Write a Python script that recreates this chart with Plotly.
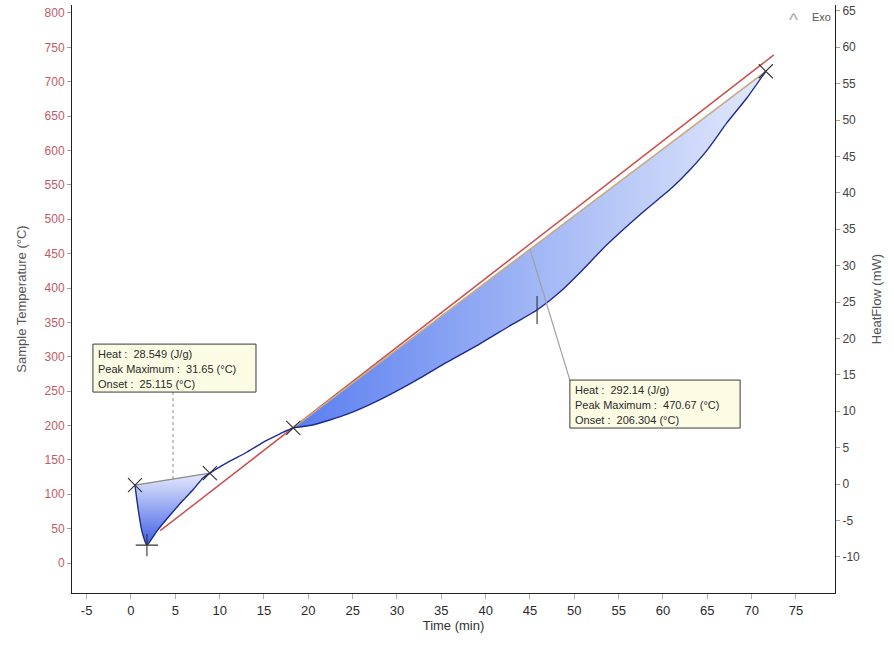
import plotly.graph_objects as go

# ---------------- data ----------------
# DSC heat-flow curve (right axis, mW) vs time (min)
time_min = [0.45, 0.83, 1.20, 1.50, 1.80, 2.9, 4.4, 5.9, 7.0, 8.1, 8.9, 10.8, 13.1, 15.3, 16.8,
            18.3, 20.5, 24.4, 28.1, 31.8, 35.6, 39.4, 43.1, 45.8, 48.4, 50.6, 53.7, 57.4, 61.1,
            63.0, 65.0, 67.2, 69.5, 71.6]
heatflow = [-0.14, -3.6, -6.3, -7.6, -8.4, -6.5, -4.3, -2.2, -0.8, 0.8, 1.5, 2.9, 4.4, 6.0, 6.9,
            7.7, 8.1, 9.6, 11.6, 14.0, 16.7, 19.3, 22.0, 23.9, 26.4, 29.0, 32.9, 37.0, 40.8,
            43.1, 45.9, 49.6, 53.1, 56.7]

# Sample temperature (left axis, °C) vs time (min)
temp_time = [3.3, 18.3, 45.7, 72.5]
sample_temp = [47, 197, 471, 739]

# integration limits (start, end time) of the two peaks and peak-maximum times
peak1_limits = [0.45, 8.9]
peak2_limits = [18.3, 71.6]
peak1_max_time = 1.80
peak2_max_time = 45.8

peak1_text = ["Heat :  28.549 (J/g)", "Peak Maximum :  31.65 (\u00b0C)", "Onset :  25.115 (\u00b0C)"]
peak2_text = ["Heat :  292.14 (J/g)", "Peak Maximum :  470.67 (\u00b0C)", "Onset :  206.304 (\u00b0C)"]

x_ticks = list(range(-5, 80, 5))
x_labels = [str(v).replace("-", "-") for v in x_ticks]
y_ticks = list(range(0, 801, 50))
y2_ticks = list(range(-10, 66, 5))
y2_labels = [str(v) for v in y2_ticks]

# ---------------- helpers ----------------
def seg(t0, t1):
    i0 = time_min.index(t0)
    i1 = time_min.index(t1)
    return time_min[i0:i1 + 1], heatflow[i0:i1 + 1]

def hf_at(t):
    return heatflow[time_min.index(t)]

def base_at(lims, t):
    a, b = lims
    ya, yb = hf_at(a), hf_at(b)
    return ya + (yb - ya) * (t - a) / (b - a)

FONT = "Liberation Sans Narrow, Arial Narrow, Liberation Sans, Arial, sans-serif"
TXT = "Liberation Sans, Arial, sans-serif"

fig = go.Figure()

# sample temperature line (left axis)
fig.add_trace(go.Scatter(x=temp_time, y=sample_temp, mode="lines",
                         line=dict(color="#c9514f", width=1.5), yaxis="y", hoverinfo="skip"))

# peak 1 fill
x1, y1 = seg(*peak1_limits)
fig.add_trace(go.Scatter(x=x1, y=y1, mode="lines", fill="toself",
                         line=dict(width=0, shape="spline", smoothing=0.6), yaxis="y2",
                         fillgradient=dict(type="vertical",
                                           colorscale=[[0, "#4060e6"], [1, "#e6eafc"]]),
                         hoverinfo="skip"))
# peak 2 fill
x2, y2 = seg(*peak2_limits)
fig.add_trace(go.Scatter(x=x2, y=y2, mode="lines", fill="toself",
                         line=dict(width=0, shape="spline", smoothing=0.6), yaxis="y2",
                         fillgradient=dict(type="horizontal",
                                           colorscale=[[0, "#5a7ef0"], [0.5, "#9fb5f5"], [1, "#e3e9fc"]]),
                         hoverinfo="skip"))

# baselines
fig.add_trace(go.Scatter(x=peak1_limits, y=[hf_at(t) for t in peak1_limits], mode="lines",
                         line=dict(color="#8a8a8a", width=1.3), yaxis="y2", hoverinfo="skip"))
fig.add_trace(go.Scatter(x=peak2_limits, y=[hf_at(t) for t in peak2_limits], mode="lines",
                         line=dict(color="#c8aa82", width=1.6), yaxis="y2", hoverinfo="skip"))

# heat flow curve
fig.add_trace(go.Scatter(x=time_min, y=heatflow, mode="lines",
                         line=dict(color="#1d2a8f", width=1.4, shape="spline", smoothing=0.6),
                         yaxis="y2", hoverinfo="skip"))

# integration limit markers
lim_t = peak1_limits + peak2_limits
fig.add_trace(go.Scatter(x=lim_t, y=[hf_at(t) for t in lim_t], mode="markers", yaxis="y2",
                         marker=dict(symbol="x-thin", size=14, line=dict(color="#333333", width=1.1)),
                         hoverinfo="skip"))
# peak maximum markers
fig.add_trace(go.Scatter(x=[peak1_max_time], y=[hf_at(peak1_max_time)], mode="markers", yaxis="y2",
                         marker=dict(symbol="cross-thin", size=16, line=dict(color="#333333", width=1.1)),
                         hoverinfo="skip"))
fig.add_trace(go.Scatter(x=[peak2_max_time], y=[hf_at(peak2_max_time)], mode="markers", yaxis="y2",
                         marker=dict(symbol="line-ns", size=20, line=dict(color="#333333", width=1.1)),
                         hoverinfo="skip"))

# ---------------- annotation boxes ----------------
box1 = dict(x0=-4.29, x1=14.1, y0=12.63, y1=19.22)
box2 = dict(x0=49.5, x1=68.7, y0=7.69, y1=14.28)

shapes = []
# connectors
c1_t = 4.74
shapes.append(dict(type="line", xref="x", yref="y2", x0=c1_t, x1=c1_t,
                   y0=base_at(peak1_limits, c1_t), y1=box1["y0"],
                   line=dict(color="#8c8c8c", width=1, dash="dot"), layer="above"))
c2_t = 45.0
shapes.append(dict(type="line", xref="x", yref="y2", x0=c2_t, x1=box2["x0"],
                   y0=base_at(peak2_limits, c2_t), y1=box2["y1"],
                   line=dict(color="#a0a0a0", width=1.2), layer="above"))
for b in (box1, box2):
    shapes.append(dict(type="rect", xref="x", yref="y2", **b,
                       fillcolor="#fcfce4", line=dict(color="#3a3a3a", width=1), layer="above"))

annotations = []
for b, lines in ((box1, peak1_text), (box2, peak2_text)):
    h = b["y1"] - b["y0"]
    for k, s in enumerate(lines):
        yy = b["y1"] - h * (0.21 + 0.31 * k)
        annotations.append(dict(x=b["x0"] + 0.35, y=yy, xref="x", yref="y2", text=s,
                                showarrow=False, xanchor="left", yanchor="middle",
                                font=dict(family=TXT, size=11, color="#2a2a2a")))

# Exo indicator
annotations.append(dict(x=(793 - 72) / 763, y=(593 - 20) / 588, xref="paper", yref="paper",
                        text="^", showarrow=False, xanchor="center", yanchor="middle",
                        font=dict(family=TXT, size=19, color="#a8a8a8")))
annotations.append(dict(x=(810 - 72) / 763, y=(593 - 17) / 588, xref="paper", yref="paper",
                        text="Exo", showarrow=False, xanchor="left", yanchor="middle",
                        font=dict(family=TXT, size=11, color="#555555")))

fig.update_layout(
    width=894, height=646,
    margin=dict(l=72, r=59, t=5, b=53),
    paper_bgcolor="white", plot_bgcolor="white",
    showlegend=False,
    shapes=shapes, annotations=annotations,
    xaxis=dict(range=[-6.65, 79.4], tickvals=x_ticks, ticktext=x_labels, ticks="outside", ticklen=5,
               tickcolor="#b0b0b0", showgrid=False, zeroline=False, showline=True,
               linecolor="#222222", linewidth=1,
               tickfont=dict(family=FONT, size=13, color="#2a2a2a"),
               title=dict(text="Time (min)", font=dict(family=TXT, size=13, color="#333333"),
                          standoff=4)),
    yaxis=dict(range=[-43.6, 811.6], tickvals=y_ticks, ticks="outside", ticklen=4,
               tickcolor="#a0a0a0", showgrid=False, zeroline=False, showline=True,
               linecolor="#222222", linewidth=1,
               tickfont=dict(family=TXT, size=12, color="#c25a66"),
               title=dict(text="Sample Temperature (\u00b0C)",
                          font=dict(family=TXT, size=13, color="#555555"), standoff=15)),
    yaxis2=dict(range=[-14.97, 65.8], tickvals=y2_ticks, ticktext=y2_labels, overlaying="y",
                side="right", ticks="outside", ticklen=4, tickcolor="#a0a0a0", showgrid=False,
                zeroline=False, showline=True, linecolor="#222222", linewidth=1,
                tickfont=dict(family=TXT, size=12, color="#444444"),
                title=dict(text="HeatFlow (mW)", font=dict(family=TXT, size=13, color="#555555"),
                           standoff=12)),
)

fig.write_html("out.html")
